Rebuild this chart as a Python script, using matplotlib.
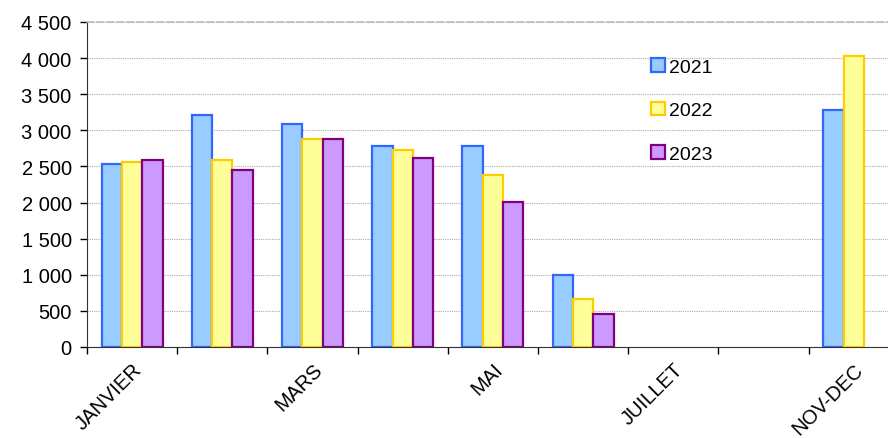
import matplotlib
matplotlib.use("Agg")
import matplotlib.pyplot as plt
import numpy as np
from matplotlib.ticker import FuncFormatter, MultipleLocator

# données
mois = ["JANVIER", "FEVRIER", "MARS", "AVRIL", "MAI", "JUIN", "JUILLET", "AOUT-OCT", "NOV-DEC"]
v2021 = [2534, 3212, 3088, 2783, 2783, 997, 0, 0, 3282]
v2022 = [2557, 2593, 2880, 2728, 2382, 665, 0, 0, 4025]
v2023 = [2590, 2446, 2880, 2617, 2008, 457, 0, 0, 0]
annees = ["2021", "2022", "2023"]
faces = ["#99CCFF", "#FFFF99", "#CC99FF"]
bords = ["#3366FF", "#FFCC00", "#800080"]

plt.rcParams['font.family'] = ['Liberation Sans', 'DejaVu Sans']

fig = plt.figure(figsize=(8.88, 4.39), dpi=100)
ax = fig.add_axes([87/888, 1 - 348/439, 1 - 87/888, (348 - 23)/439])

x = np.arange(len(mois))
w = 0.225
series = [v2021, v2022, v2023]
for i, vals in enumerate(series):
    vals = np.array(vals, dtype=float)
    masque = vals > 0
    ax.bar(x[masque] + (i - 1) * w, vals[masque], width=w, color=faces[i],
           edgecolor=bords[i], linewidth=1.6, label=annees[i], zorder=3)

ax.yaxis.set_major_locator(MultipleLocator(500))
ax.yaxis.set_major_formatter(FuncFormatter(lambda v, p: f"{int(v):,}".replace(",", " ")))
ax.grid(axis="y", color="#AAAAAA", linestyle=(0, (1, 1)), linewidth=0.8, zorder=0)

# étiquettes une sur deux
ax.set_xticks(x[::2])
ax.set_xticklabels(mois[::2], rotation=45, ha="right",
                   rotation_mode="anchor", fontsize=14.5)
ax.tick_params(axis="x", which="major", length=0, pad=9)
ax.set_xticks(np.arange(-0.5, len(mois), 1), minor=True)
ax.tick_params(axis="x", which="minor", length=5, direction="out", width=1)
ax.tick_params(axis="y", length=5, width=1, labelsize=14.5, pad=6)

# limites après les ticks (sinon set_xticks les élargit)
ax.set_ylim(0, 4500)
ax.set_xlim(-0.5, 8.38)

ax.spines["right"].set_visible(False)
ax.spines["top"].set_color("#BBBBBB")
ax.spines["top"].set_linestyle((0, (4, 2)))
ax.spines["top"].set_linewidth(1.2)
ax.spines["left"].set_color("#333333")
ax.spines["bottom"].set_color("#333333")

ax.legend(loc="upper left", bbox_to_anchor=(0.692, 0.918), frameon=False,
          fontsize=14, handlelength=0.7, handleheight=0.7, handletextpad=0.25,
          labelspacing=1.32, borderpad=0)

fig.savefig("out.png", dpi=100)
